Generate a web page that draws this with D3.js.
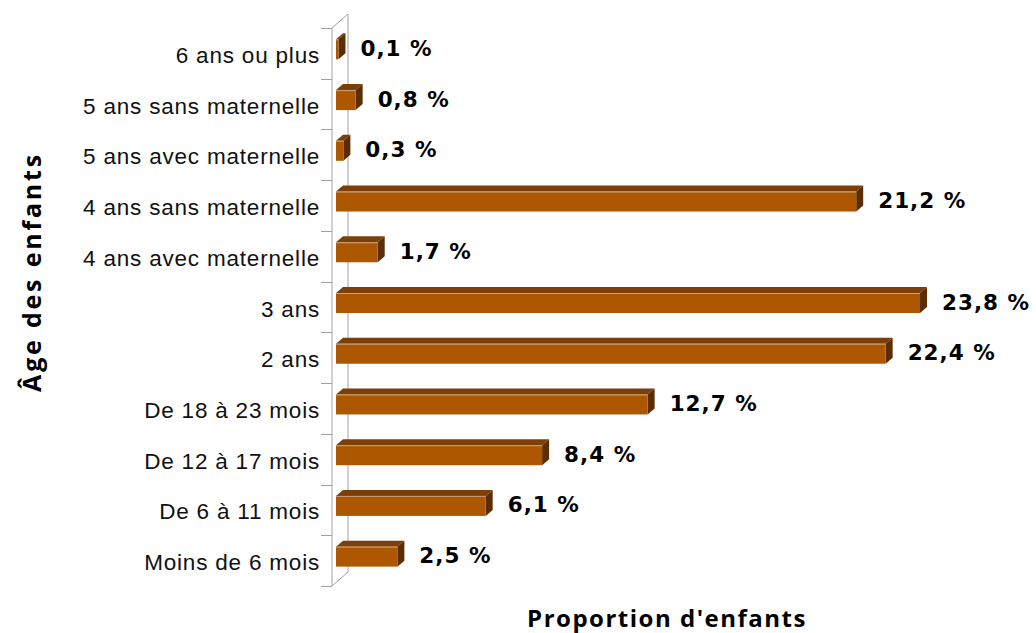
<!DOCTYPE html>
<html>
<head>
  <meta charset="utf-8">
  <title>Proportion d'enfants</title>
  <script src="https://d3js.org/d3.v7.min.js"></script>
  <style>
    body { margin: 0; background: #fff; }
    .cat { font: 22.5px "Liberation Sans", Arial, sans-serif; fill: #111; letter-spacing: 0.8px; }
    .val { font: bold 21.5px "DejaVu Sans", Verdana, sans-serif; fill: #000; letter-spacing: 1px; }
    .titre { font: bold 24px "Open Sans", sans-serif; fill: #000; letter-spacing: 1.5px; }
    .titre.y { font-size: 25px; letter-spacing: 2.8px; }
  </style>
</head>
<body>
<div id="chart"></div>
<script>
  "use strict"

  // categories du haut vers le bas
  var categories = ["6 ans ou plus", "5 ans sans maternelle", "5 ans avec maternelle",
    "4 ans sans maternelle", "4 ans avec maternelle", "3 ans", "2 ans",
    "De 18 à 23 mois", "De 12 à 17 mois", "De 6 à 11 mois", "Moins de 6 mois"];
  var valeurs = [0.1, 0.8, 0.3, 21.2, 1.7, 23.8, 22.4, 12.7, 8.4, 6.1, 2.5];
  var etiquettes = ["0,1 %", "0,8 %", "0,3 %", "21,2 %", "1,7 %", "23,8 %", "22,4 %",
    "12,7 %", "8,4 %", "6,1 %", "2,5 %"];

  var largeur = 1036, hauteur = 633;
  var dx = 7, dy = 6;         // profondeur 3d
  var hBarre = 20;

  var svg = d3.select('#chart').append('svg')
      .attr('width', largeur)
      .attr('height', hauteur);

  var y = d3.scaleBand()
      .domain(categories)
      .range([28, 586])
      .padding(0);

  var x = d3.scaleLinear()
      .domain([0, 23.8])
      .range([336, 920]);

  // murs / axe
  var gris = '#a0a0a0';
  var x0 = 332, y0 = 28, y1 = 586, p = 16, q = 14;
  var murs = svg.append('g').attr('stroke', gris).attr('fill', 'none').attr('stroke-width', 1);
  murs.append('line').attr('x1', x0).attr('y1', y0).attr('x2', x0).attr('y2', y1);
  murs.append('line').attr('x1', x0 + p).attr('y1', y0 - q).attr('x2', x0 + p).attr('y2', y1 - q);
  murs.append('line').attr('x1', x0).attr('y1', y0).attr('x2', x0 + p).attr('y2', y0 - q);
  murs.append('line').attr('x1', x0).attr('y1', y1).attr('x2', x0 + p).attr('y2', y1 - q);

  // graduations
  var bornes = categories.map(function(c) { return y(c); }).concat([y1]);
  murs.selectAll('.tick').data(bornes).enter().append('line')
      .attr('x1', 321).attr('x2', x0)
      .attr('y1', function(d) { return Math.round(d) + 0.5; })
      .attr('y2', function(d) { return Math.round(d) + 0.5; });

  var donnees = categories.map(function(c, i) {
    return { cat: c, val: valeurs[i], lab: etiquettes[i] };
  });

  function haut(d) { return y(d.cat) + y.bandwidth() / 2 - 14; }

  var barres = svg.append('g').selectAll('g').data(donnees).enter().append('g');

  // face du dessus
  barres.append('path')
      .attr('fill', '#7d3f0a')
      .attr('d', function(d) {
        var xa = x(0), xb = x(d.val), t = haut(d);
        return 'M' + xa + ',' + t + 'L' + (xa + dx) + ',' + (t - dy) +
               'L' + (xb + dx) + ',' + (t - dy) + 'L' + xb + ',' + t + 'Z';
      });
  // face de droite
  barres.append('path')
      .attr('fill', '#5a2d02')
      .attr('d', function(d) {
        var xb = x(d.val), t = haut(d);
        return 'M' + xb + ',' + t + 'L' + (xb + dx) + ',' + (t - dy) +
               'L' + (xb + dx) + ',' + (t - dy + hBarre) + 'L' + xb + ',' + (t + hBarre) + 'Z';
      });
  // face avant
  barres.append('rect')
      .attr('fill', '#ad5800')
      .attr('x', x(0))
      .attr('y', function(d) { return haut(d); })
      .attr('width', function(d) { return x(d.val) - x(0); })
      .attr('height', hBarre);
  // liseré clair
  barres.append('line')
      .attr('stroke', '#c9a27a').attr('stroke-width', 1)
      .attr('x1', x(0))
      .attr('x2', function(d) { return x(d.val); })
      .attr('y1', function(d) { return haut(d) + 0.5; })
      .attr('y2', function(d) { return haut(d) + 0.5; });

  // valeurs
  svg.append('g').selectAll('text').data(donnees).enter().append('text')
      .attr('class', 'val')
      .attr('x', function(d) { return x(d.val) + dx + 15; })
      .attr('y', function(d) { return haut(d) + 9; })
      .attr('dominant-baseline', 'central')
      .text(function(d) { return d.lab; });

  // categories
  svg.append('g').selectAll('text').data(categories).enter().append('text')
      .attr('class', 'cat')
      .attr('x', 320)
      .attr('y', function(d) { return y(d) + y.bandwidth() / 2 + 2; })
      .attr('text-anchor', 'end')
      .attr('dominant-baseline', 'central')
      .text(function(d) { return d; });

  // titres
  svg.append('text').attr('class', 'titre')
      .attr('x', 667).attr('y', 617)
      .attr('text-anchor', 'middle').attr('dominant-baseline', 'central')
      .text("Proportion d'enfants");

  svg.append('text').attr('class', 'titre y')
      .attr('transform', 'translate(31,272) rotate(-90)')
      .attr('text-anchor', 'middle').attr('dominant-baseline', 'central')
      .text('Âge des enfants');
</script>
</body>
</html>
